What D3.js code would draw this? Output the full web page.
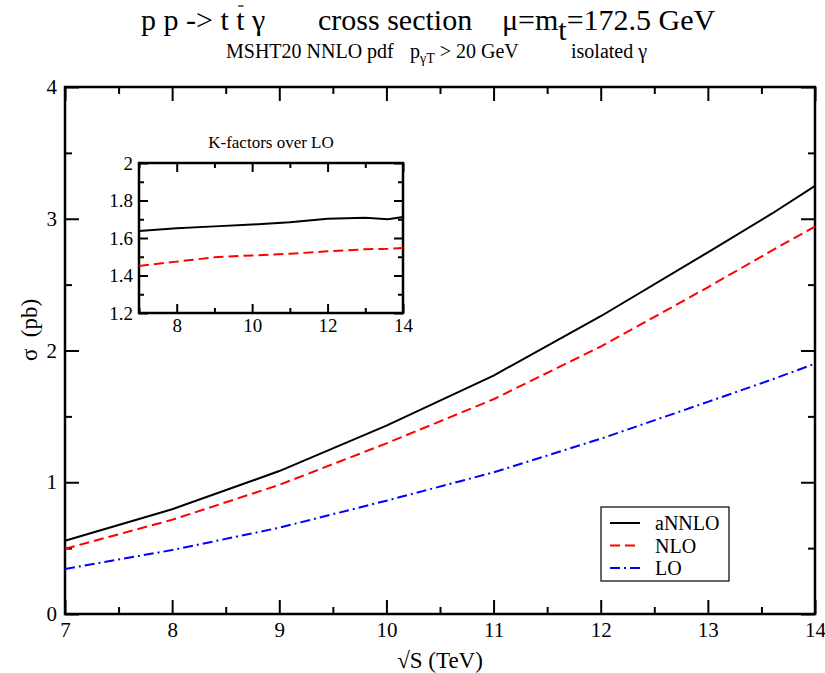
<!DOCTYPE html>
<html>
<head>
<meta charset="utf-8">
<script src="https://cdn.jsdelivr.net/npm/d3@7"></script>
<style>
  body { margin: 0; background: #fff; }
  svg text { font-family: "Liberation Serif", "Times New Roman", Times, "DejaVu Serif", serif; white-space: pre; }
</style>
</head>
<body>
<div id="container"></div>
<script>
// sqrt(S) values in TeV
var energies = [7, 8, 9, 10, 11, 12, 13, 13.6, 14];

// cross sections in pb
var annlo = [0.556, 0.795, 1.085, 1.43, 1.81, 2.26, 2.745, 3.04, 3.25];
var nlo   = [0.495, 0.715, 0.98, 1.295, 1.63, 2.03, 2.48, 2.76, 2.94];
var lo    = [0.342, 0.485, 0.655, 0.86, 1.075, 1.33, 1.61, 1.78, 1.90];

// K-factors over LO (inset)
var kAnnlo = [1.637, 1.652, 1.662, 1.672, 1.684, 1.703, 1.708, 1.700, 1.712];
var kNlo   = [1.451, 1.474, 1.497, 1.507, 1.516, 1.529, 1.540, 1.543, 1.547];

var xTicks = [7, 8, 9, 10, 11, 12, 13, 14];
var yTicks = [0, 1, 2, 3, 4];
var insetXTicks = [8, 10, 12, 14];
var insetYTicks = [1.2, 1.4, 1.6, 1.8, 2];

var legendNames = ["aNNLO", "NLO", "LO"];

var width = 825, height = 673;
var serif = "'Liberation Serif', 'Times New Roman', Times, 'DejaVu Serif', serif";

var svg = d3.select("#container").append("svg")
    .attr("width", width)
    .attr("height", height)
    .attr("font-family", serif);

// main plot area
var plot = {left: 65, right: 815, top: 87, bottom: 614};

var x = d3.scaleLinear().domain([7, 14]).range([plot.left, plot.right]);
var y = d3.scaleLinear().domain([0, 4]).range([plot.bottom, plot.top]);

var series = [
  {name: legendNames[0], values: annlo, color: "#000", dash: null},
  {name: legendNames[1], values: nlo, color: "#ff0000", dash: "10,5"},
  {name: legendNames[2], values: lo, color: "#0000ff", dash: "10,4,2,4"}
];

// draws a boxed frame with inward ticks on all four sides
function frame(g, xs, ys, xMajor, xMinor, yMajor, yMinor, big, small, fmtX, fmtY, pad) {
  var b = ys.range()[0], t = ys.range()[1];
  var l = xs.range()[0], r = xs.range()[1];

  g.append("g").attr("class", "axis").attr("transform", "translate(0," + b + ")")
    .call(d3.axisBottom(xs).tickValues(xMajor).tickSize(-big).tickPadding(pad).tickFormat(fmtX));
  g.append("g").attr("class", "axis").attr("transform", "translate(0," + b + ")")
    .call(d3.axisBottom(xs).tickValues(xMinor).tickSize(-small).tickFormat(""));
  g.append("g").attr("class", "axis").attr("transform", "translate(0," + t + ")")
    .call(d3.axisTop(xs).tickValues(xMajor).tickSize(-big).tickFormat(""));
  g.append("g").attr("class", "axis").attr("transform", "translate(0," + t + ")")
    .call(d3.axisTop(xs).tickValues(xMinor).tickSize(-small).tickFormat(""));

  g.append("g").attr("class", "axis").attr("transform", "translate(" + l + ",0)")
    .call(d3.axisLeft(ys).tickValues(yMajor).tickSize(-big).tickPadding(pad).tickFormat(fmtY));
  g.append("g").attr("class", "axis").attr("transform", "translate(" + l + ",0)")
    .call(d3.axisLeft(ys).tickValues(yMinor).tickSize(-small).tickFormat(""));
  g.append("g").attr("class", "axis").attr("transform", "translate(" + r + ",0)")
    .call(d3.axisRight(ys).tickValues(yMajor).tickSize(-big).tickFormat(""));
  g.append("g").attr("class", "axis").attr("transform", "translate(" + r + ",0)")
    .call(d3.axisRight(ys).tickValues(yMinor).tickSize(-small).tickFormat(""));

  g.selectAll(".domain").remove();
  g.selectAll(".axis").attr("font-family", serif);
  g.selectAll(".tick line").attr("stroke", "#000").attr("stroke-width", 2);
  g.selectAll(".tick text").attr("fill", "#000");

  g.append("rect")
    .attr("x", l).attr("y", t)
    .attr("width", r - l).attr("height", b - t)
    .attr("fill", "none").attr("stroke", "#000").attr("stroke-width", 2.5);
}

var main = svg.append("g");
frame(main, x, y,
  xTicks, [7.5, 8.5, 9.5, 10.5, 11.5, 12.5, 13.5],
  yTicks, [0.5, 1.5, 2.5, 3.5],
  14, 7, d3.format("d"), d3.format("d"), 8);
main.selectAll(".axis").attr("font-size", 21);

var line = d3.line()
  .x(function(d, i) { return x(energies[i]); })
  .y(function(d) { return y(d); });

main.selectAll(".curve")
  .data(series)
  .enter().append("path")
  .attr("class", "curve")
  .attr("d", function(d) { return line(d.values); })
  .attr("fill", "none")
  .attr("stroke", function(d) { return d.color; })
  .attr("stroke-width", 2)
  .attr("stroke-dasharray", function(d) { return d.dash; });

// legend
var lg = svg.append("g").attr("transform", "translate(601,507)");
lg.append("rect").attr("width", 128).attr("height", 74)
  .attr("fill", "#fff").attr("stroke", "#000").attr("stroke-width", 1.2);
var rows = lg.selectAll(".row").data(series).enter().append("g")
  .attr("transform", function(d, i) { return "translate(0," + (16 + i * 22.5) + ")"; });
rows.append("line").attr("x1", 9).attr("x2", 39)
  .attr("stroke", function(d) { return d.color; })
  .attr("stroke-width", 2)
  .attr("stroke-dasharray", function(d) { return d.dash; });
rows.append("text").attr("x", 54).attr("y", 7)
  .attr("font-size", 20)
  .text(function(d) { return d.name; });

// inset with K-factors
var ix = d3.scaleLinear().domain([7, 14]).range([139, 403]);
var iy = d3.scaleLinear().domain([1.2, 2]).range([313, 163]);
var inset = svg.append("g").attr("class", "inset");
frame(inset, ix, iy,
  insetXTicks, [7, 9, 11, 13],
  insetYTicks, [1.3, 1.5, 1.7, 1.9],
  9, 5, d3.format("d"), function(d) { return d === 2 ? "2" : d3.format(".1f")(d); }, 6);
inset.selectAll(".axis").attr("font-size", 19);

var iline = d3.line()
  .x(function(d, i) { return ix(energies[i]); })
  .y(function(d) { return iy(d); });

inset.append("path").attr("d", iline(kAnnlo))
  .attr("fill", "none").attr("stroke", "#000").attr("stroke-width", 2);
inset.append("path").attr("d", iline(kNlo))
  .attr("fill", "none").attr("stroke", "#ff0000").attr("stroke-width", 2)
  .attr("stroke-dasharray", "10,5");

inset.append("text")
  .attr("x", 271).attr("y", 148)
  .attr("text-anchor", "middle")
  .attr("font-size", 17)
  .text("K-factors over LO");

// axis labels
svg.append("text")
  .attr("x", (plot.left + plot.right) / 2).attr("y", 668)
  .attr("text-anchor", "middle")
  .attr("font-size", 23)
  .text("\u221AS (TeV)");

svg.append("text")
  .attr("transform", "translate(37,330) rotate(-90)")
  .attr("text-anchor", "middle")
  .attr("font-size", 23)
  .text("\u03C3  (pb)");

// title, in three pieces like the original
var t1 = svg.append("text").attr("x", 141).attr("y", 30).attr("font-size", 30)
  .text("p p -> t t \u03B3");
// bar over the second t (anti-top)
var ext = t1.node().getExtentOfChar(9);
svg.append("line")
  .attr("x1", ext.x + 2).attr("x2", ext.x + ext.width - 1)
  .attr("y1", ext.y + 3).attr("y2", ext.y + 3)
  .attr("stroke", "#000").attr("stroke-width", 1.2);

svg.append("text").attr("x", 318).attr("y", 30).attr("font-size", 30)
  .text("cross section");

var t3 = svg.append("text").attr("x", 502).attr("y", 30).attr("font-size", 30);
t3.append("tspan").text("\u03BC=m");
t3.append("tspan").attr("dy", 10).text("t");
t3.append("tspan").attr("dy", -10).text("=172.5 GeV");

// subtitle
svg.append("text").attr("x", 226).attr("y", 58).attr("font-size", 20)
  .text("MSHT20 NNLO pdf");
var s2 = svg.append("text").attr("x", 410).attr("y", 58).attr("font-size", 20);
s2.append("tspan").text("p");
s2.append("tspan").attr("dy", 5).attr("font-size", 14).text("\u03B3T");
s2.append("tspan").attr("dy", -5).text(" > 20 GeV");
svg.append("text").attr("x", 571).attr("y", 58).attr("font-size", 20)
  .text("isolated \u03B3");
</script>
</body>
</html>
